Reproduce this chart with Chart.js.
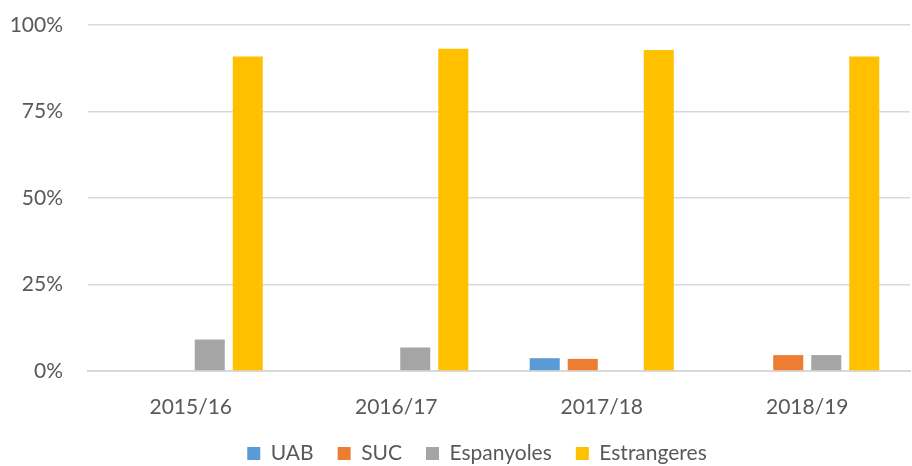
<!DOCTYPE html>
<html>
<head>
<meta charset="utf-8">
<script src="https://cdn.jsdelivr.net/npm/chart.js@4.4.0/dist/chart.umd.min.js"></script>
<style>
  html, body { margin: 0; padding: 0; background: #fff; }
  #wrap { width: 912px; height: 466px; }
</style>
</head>
<body>
<div id="wrap"><canvas id="grafic"></canvas></div>
<script>
// Cursos i percentatges per origen
const cursos = ['2015/16', '2016/17', '2017/18', '2018/19'];
const uab = [0, 0, 3.7, 0];
const suc = [0, 0, 3.5, 4.6];
const espanyoles = [9.1, 6.8, 0, 4.6];
const estrangeres = [90.9, 93.1, 92.8, 90.9];
const ticksY = [0, 25, 50, 75, 100];

const colors = ['#5B9BD5', '#ED7D31', '#A5A5A5', '#FFC000'];
const font = "Lato, 'Liberation Sans', sans-serif";

function serie(nom, dades, color) {
    return {
        label: nom,
        data: dades,
        backgroundColor: color,
        borderWidth: 0,
        categoryPercentage: 0.74,
        barPercentage: 0.79
    };
}

// la llegenda queda una mica desplaçada a la dreta, com a l'original
const moureLlegenda = {
    id: 'moureLlegenda',
    afterLayout(chart) {
        chart.legend.left += 22;
        chart.legend.right += 22;
    }
};

new Chart(document.getElementById('grafic'), {
    type: 'bar',
    data: {
        labels: cursos,
        datasets: [
            serie('UAB', uab, colors[0]),
            serie('SUC', suc, colors[1]),
            serie('Espanyoles', espanyoles, colors[2]),
            serie('Estrangeres', estrangeres, colors[3])
        ]
    },
    plugins: [moureLlegenda],
    options: {
        responsive: true,
        maintainAspectRatio: false,
        animation: false,
        layout: { padding: { top: 25, right: 2, left: 0, bottom: -8 } },
        plugins: {
            tooltip: { enabled: false },
            legend: {
                position: 'bottom',
                labels: {
                    boxWidth: 13,
                    boxHeight: 13,
                    padding: 24,
                    color: '#595959',
                    font: { family: font, size: 21 }
                }
            }
        },
        scales: {
            x: {
                grid: { display: false, drawTicks: false },
                border: { color: '#D9D9D9', width: 2 },
                afterFit: s => { s.height = 48; },
                ticks: { color: '#595959', padding: 24, font: { family: font, size: 21 } }
            },
            y: {
                min: 0,
                max: 100,
                afterBuildTicks: axis => { axis.ticks = ticksY.map(v => ({ value: v })); },
                afterFit: s => { s.width = 88; s.paddingTop = 0; s.paddingBottom = 0; },
                grid: { color: '#D9D9D9', lineWidth: 1.5, drawTicks: false },
                border: { display: false },
                ticks: {
                    color: '#595959',
                    padding: 25,
                    font: { family: font, size: 21 },
                    callback: v => v + '%'
                }
            }
        }
    }
});
</script>
</body>
</html>
